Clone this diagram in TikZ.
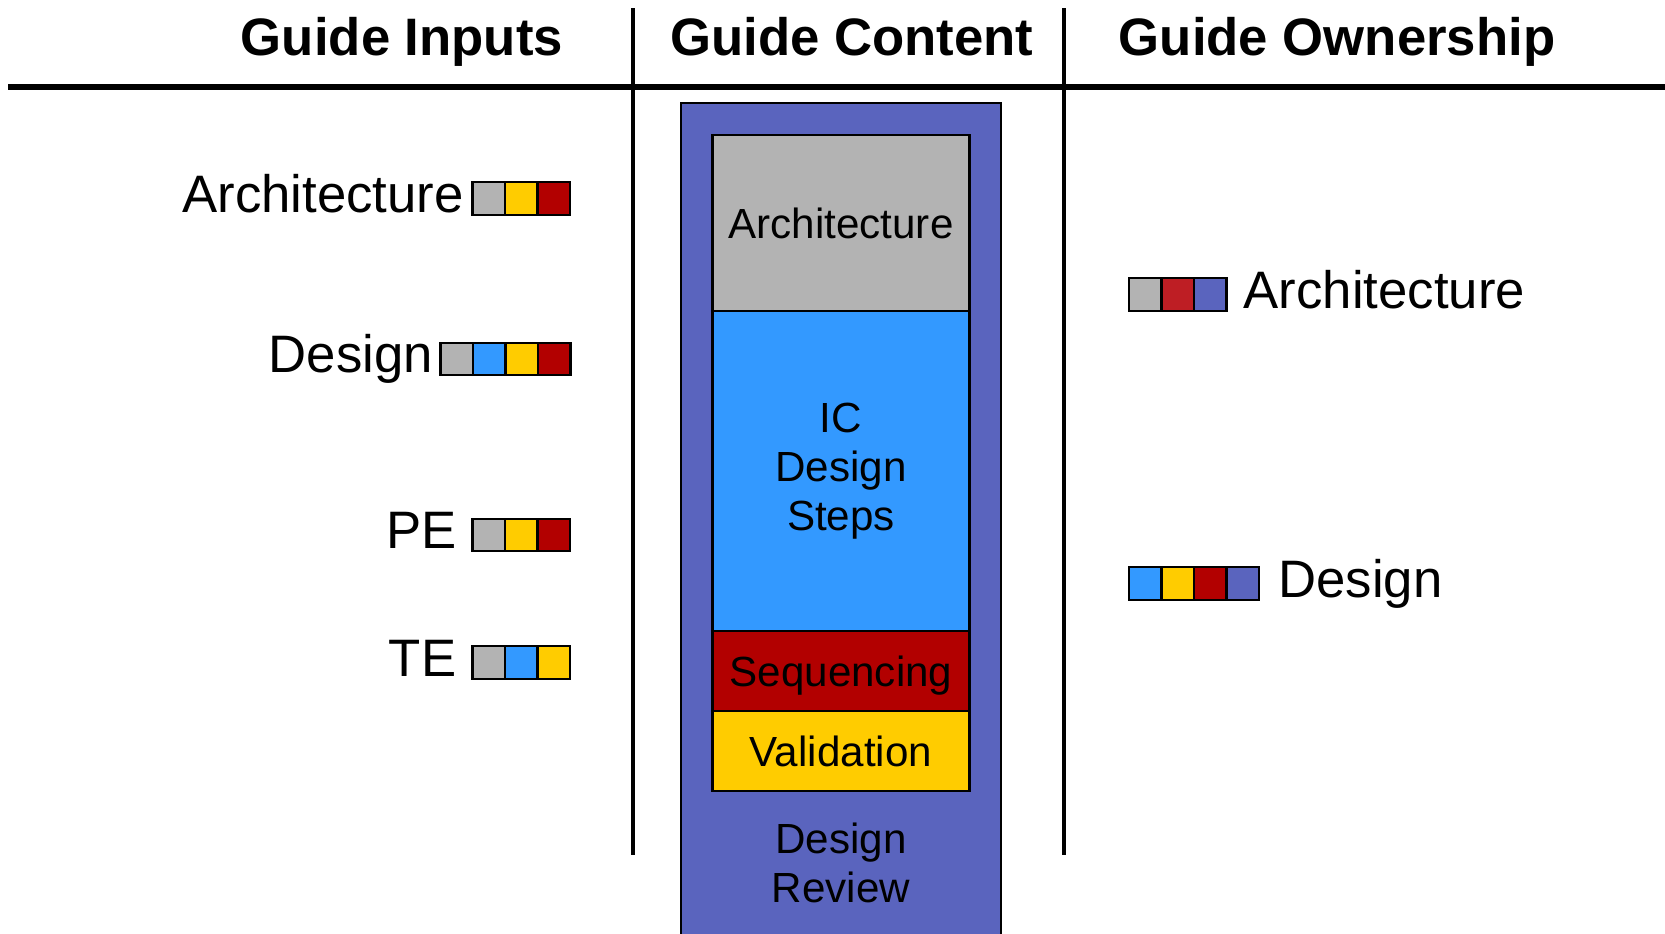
\documentclass[tikz,border=0pt]{standalone}
\usepackage{fontspec}
\setmainfont{Liberation Sans}
\usetikzlibrary{positioning}

\definecolor{archgray}{HTML}{B3B3B3}
\definecolor{valyellow}{HTML}{FFCC00}
\definecolor{seqred}{HTML}{B20000}
\definecolor{icblue}{HTML}{3399FF}
\definecolor{revblue}{HTML}{5A64BE}
\definecolor{ownred}{HTML}{BE1E24}

\tikzset{
    heading/.style={font=\fontsize{30}{36}\selectfont\bfseries, anchor=base},
    label/.style={font=\fontsize{30}{36}\selectfont, inner sep=0pt, text height=21.9pt, text depth=6.3pt},
    swatch/.style={draw, line width=1.2pt, minimum size=0.65cm, inner sep=0pt, outer sep=0pt},
    stage/.style={draw, line width=1.2pt, minimum width=5.14cm, inner sep=0pt, outer sep=0pt,
        align=center, font=\fontsize{24}{28}\selectfont},
}

\begin{document}
\begin{tikzpicture}[x=0.02cm, y=-0.02cm, node distance=0pt]
    \useasboundingbox (0,0) rectangle (1665,933);

    % headings and rules
    \node[heading] (hin) at (402,55.5) {Guide Inputs};
    \node[heading] (hcon) at (852,55.5) {Guide Content};
    \node[heading] (hown) at (1337,55.5) {Guide Ownership};
    \draw[line width=3pt] (8,87) -- (1665,87);
    \draw[line width=2.4pt] (633,8) -- (633,855);
    \draw[line width=2.4pt] (1064,8) -- (1064,855);

    % guide content
    \draw[fill=revblue, line width=1.2pt] (681,103) rectangle (1001,945);
    \node[stage, fill=archgray, minimum height=3.52cm, anchor=north] (arch) at (841,135) {Architecture};
    \node[stage, fill=icblue, minimum height=6.4cm, below=of arch] (ic) {IC\\Design\\Steps};
    \node[stage, fill=seqred, minimum height=1.6cm, text depth=0pt, below=of ic] (seq) {Sequencing};
    \node[stage, fill=valyellow, minimum height=1.6cm, text depth=0pt, below=of seq] (val) {Validation};
    \node[align=center, font=\fontsize{24}{28}\selectfont] (rev) at (841,863) {Design\\Review};

    % guide inputs
    \node[swatch, fill=archgray, anchor=west] (ia1) at (472.5,198.5) {};
    \node[swatch, fill=valyellow, right=of ia1] (ia2) {};
    \node[swatch, fill=seqred, right=of ia2] (ia3) {};
    \node[label, left=4.8pt of ia1] (ia) {Architecture};

    \node[swatch, fill=archgray, anchor=west] (id1) at (440.5,359) {};
    \node[swatch, fill=icblue, right=of id1] (id2) {};
    \node[swatch, fill=valyellow, right=of id2] (id3) {};
    \node[swatch, fill=seqred, right=of id3] (id4) {};
    \node[label, left=4.2pt of id1] (id) {Design};

    \node[swatch, fill=archgray, anchor=west] (ip1) at (472.5,535) {};
    \node[swatch, fill=valyellow, right=of ip1] (ip2) {};
    \node[swatch, fill=seqred, right=of ip2] (ip3) {};
    \node[label, left=9pt of ip1] (ip) {PE};

    \node[swatch, fill=archgray, anchor=west] (it1) at (472.5,662.5) {};
    \node[swatch, fill=icblue, right=of it1] (it2) {};
    \node[swatch, fill=valyellow, right=of it2] (it3) {};
    \node[label, left=9pt of it1] (it) {TE};

    % guide ownership
    \node[swatch, fill=archgray, anchor=west] (oa1) at (1129,294.5) {};
    \node[swatch, fill=ownred, right=of oa1] (oa2) {};
    \node[swatch, fill=revblue, right=of oa2] (oa3) {};
    \node[label, right=9.6pt of oa3] (oa) {Architecture};

    \node[swatch, fill=icblue, anchor=west] (od1) at (1129,583.5) {};
    \node[swatch, fill=valyellow, right=of od1] (od2) {};
    \node[swatch, fill=seqred, right=of od2] (od3) {};
    \node[swatch, fill=revblue, right=of od3] (od4) {};
    \node[label, right=10.8pt of od4] (od) {Design};
\end{tikzpicture}
\end{document}
